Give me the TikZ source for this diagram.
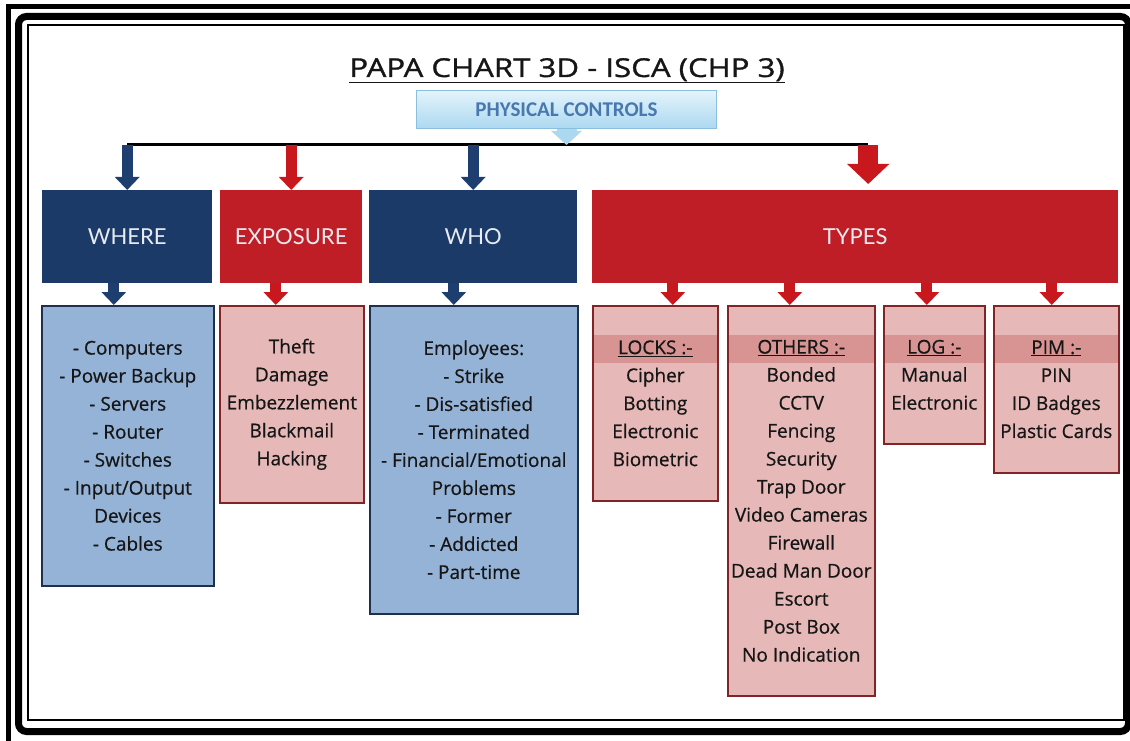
\documentclass[tikz,border=0pt]{standalone}
\usepackage{fontspec}
\setmainfont{Open Sans}[FakeBold=0.6]
\newfontfamily\titlefont[FakeStretch=1.2,FakeBold=1.2]{Open Sans}
\newfontfamily\headfont{Lato}
\newfontfamily\pcfont{Carlito}
\usetikzlibrary{arrows.meta}

\definecolor{ink}{RGB}{22,22,22}
\definecolor{hdnavy}{RGB}{27,58,104}
\definecolor{hdred}{RGB}{192,30,38}
\definecolor{hdtext}{RGB}{232,236,242}
\definecolor{arrnavy}{RGB}{31,62,112}
\definecolor{arrred}{RGB}{200,24,30}
\definecolor{lstblue}{RGB}{149,179,215}
\definecolor{lstblueedge}{RGB}{30,48,78}
\definecolor{lstpink}{RGB}{230,184,183}
\definecolor{lstpinkedge}{RGB}{130,36,38}
\definecolor{bandpink}{RGB}{216,148,147}
\definecolor{pctop}{RGB}{228,244,252}
\definecolor{pcbottom}{RGB}{172,216,240}
\definecolor{pcedge}{RGB}{140,190,222}
\definecolor{pctext}{RGB}{72,120,176}

\begin{document}
\begin{tikzpicture}[x=1pt, y=-1pt,
    headbox/.style={anchor=north west, inner sep=0pt, text=hdtext,
      font=\headfont\fontsize{22}{26}\selectfont},
    navyhead/.style={headbox, fill=hdnavy},
    redhead/.style={headbox, fill=hdred},
    listbox/.style={anchor=north west, align=center, inner sep=0pt,
      line width=1.6pt, text=ink, font=\fontsize{19}{28}\selectfont},
    bluelist/.style={listbox, fill=lstblue, draw=lstblueedge},
    pinklist/.style={listbox, fill=lstpink, draw=lstpinkedge},
    typelist/.style={pinklist, path picture={
      \fill[bandpink] ([yshift=-29pt]path picture bounding box.north west)
        rectangle ([yshift=-57pt]path picture bounding box.north east);}},
    navyarrow/.style={draw=arrnavy, line width=11pt,
      -{Triangle[width=24pt,length=13pt]}},
    redarrow/.style={draw=arrred, line width=11pt,
      -{Triangle[width=24pt,length=13pt]}},
    bigred/.style={draw=arrred, line width=20pt,
      -{Triangle[width=41pt,length=20pt]}},
    pcarrow/.style={draw=pcbottom, line width=20pt,
      -{Triangle[width=30pt,length=14pt]}}
  ]
  \useasboundingbox (0,0) rectangle (1130,741);

  % frame
  \draw[line width=5pt] (8.5,741) -- (8.5,6.5) -- (1130,6.5);
  \draw[line width=7pt, rounded corners=8pt] (18.5,16.5) rectangle (1128.5,731.5);
  \draw[line width=1.6pt] (28,25) rectangle (1124,720);

  \node[anchor=base, text=ink, font=\titlefont\fontsize{26}{30}\selectfont]
    (title) at (567,77) {\underline{PAPA CHART 3D - ISCA (CHP 3)}};
  \node[anchor=north west, draw=pcedge, line width=1pt, top color=pctop,
    bottom color=pcbottom, text=pctext, minimum width=300pt, minimum height=38pt,
    font=\pcfont\bfseries\fontsize{21}{24}\selectfont] (pc) at (416,90) {PHYSICAL CONTROLS};

  \node[navyhead, minimum width=170pt, minimum height=93pt] (where) at (42,190) {WHERE};
  \node[redhead, minimum width=142pt, minimum height=93pt] (exposure) at (220,190) {EXPOSURE};
  \node[navyhead, minimum width=208pt, minimum height=93pt] (who) at (369,190) {WHO};
  \node[redhead, minimum width=526pt, minimum height=93pt] (types) at (592,190) {TYPES};

  \node[bluelist, minimum width=172pt, minimum height=280pt] (wherelist) at (41,305)
    {- Computers\\- Power Backup\\- Servers\\- Router\\- Switches\\- Input/Output\\Devices\\- Cables};
  \node[pinklist, minimum width=144pt, minimum height=197pt] (explist) at (219,305)
    {Theft\\Damage\\Embezzlement\\Blackmail\\Hacking};
  \node[bluelist, minimum width=208pt, minimum height=308pt] (wholist) at (369,305)
    {Employees:\\- Strike\\- Dis-satisfied\\- Terminated\\- Financial/Emotional\\Problems\\- Former\\- Addicted\\- Part-time};

  \node[typelist, minimum width=125pt, minimum height=195pt] (locks) at (592,305)
    {\underline{LOCKS :-}\\Cipher\\Botting\\Electronic\\Biometric};
  \node[typelist, minimum width=147pt, minimum height=390pt] (others) at (727,305)
    {\underline{OTHERS :-}\\Bonded\\CCTV\\Fencing\\Security\\Trap Door\\Video Cameras\\Firewall\\Dead Man Door\\Escort\\Post Box\\No Indication};
  \node[typelist, minimum width=101pt, minimum height=138pt] (log) at (883,305)
    {\underline{LOG :-}\\Manual\\Electronic};
  \node[typelist, minimum width=125pt, minimum height=167pt] (pim) at (993,305)
    {\underline{PIM :-}\\PIN\\ID Badges\\Plastic Cards};

  % connectors
  \coordinate (bus) at (0,145);
  \coordinate (typesin) at ([xshift=13pt, yshift=6pt]types.north);
  \draw[line width=3pt] (where.north |- bus) -- (typesin |- bus);
  \draw[pcarrow] (pc.south) -- (pc.south |- bus);

  \foreach \a/\s in {where/navyarrow, exposure/redarrow, who/navyarrow}
    \draw[\s] (\a.north |- bus) -- (\a.north);
  \draw[bigred] (typesin |- bus) -- (typesin);

  \foreach \a/\b/\d/\s in {where/wherelist/-14/navyarrow, exposure/explist/-16/redarrow,
      who/wholist/-20/navyarrow} {
    \coordinate (\b tip) at ([xshift=\d pt]\b.north);
    \draw[\s] (\b tip |- \a.south) -- (\b tip);
  }
  \foreach \b/\d in {locks/17.5, others/-11.5, log/-7.5, pim/-4.5} {
    \coordinate (\b tip) at ([xshift=\d pt]\b.north);
    \draw[redarrow] (\b tip |- types.south) -- (\b tip);
  }
\end{tikzpicture}
\end{document}
